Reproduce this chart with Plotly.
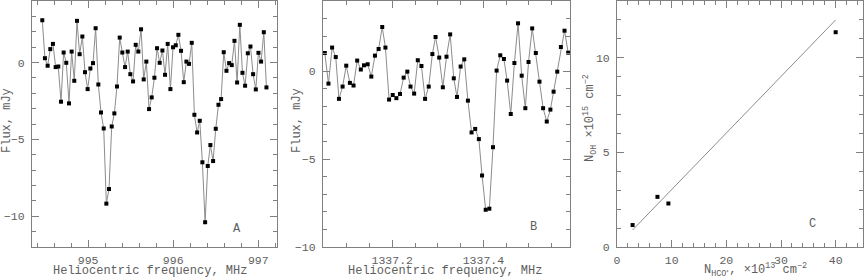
import plotly.graph_objects as go

# ---------------- data ----------------
freq_a = [994.461, 994.492, 994.524, 994.555, 994.586, 994.618, 994.649, 994.681, 994.712, 994.743,
          994.775, 994.806, 994.837, 994.869, 994.900, 994.932, 994.963, 994.994, 995.026, 995.057,
          995.088, 995.120, 995.151, 995.183, 995.214, 995.245, 995.277, 995.308, 995.339, 995.371,
          995.402, 995.434, 995.465, 995.496, 995.528, 995.559, 995.590, 995.622, 995.653, 995.684,
          995.716, 995.747, 995.779, 995.810, 995.841, 995.873, 995.904, 995.935, 995.967, 995.998,
          996.030, 996.061, 996.092, 996.124, 996.155, 996.186, 996.218, 996.249, 996.281, 996.312,
          996.343, 996.375, 996.406, 996.437, 996.469, 996.500, 996.532, 996.563, 996.594, 996.626,
          996.657, 996.688, 996.720, 996.751, 996.783, 996.814, 996.845, 996.877, 996.908, 996.939,
          996.971, 997.002, 997.033, 997.065, 997.096]
flux_a = [2.75, 0.28, -0.21, 0.87, 1.21, -0.30, -0.26, -2.55, 0.65, -0.02,
          -2.66, 0.71, -1.19, 2.71, 0.54, 1.69, -0.63, -1.73, -0.39, -0.04,
          2.23, -1.43, -3.25, -4.29, -9.18, -8.23, -4.16, -3.31, -1.56, 1.62,
          0.65, -0.30, 0.71, -0.76, -1.23, 1.15, 0.71, 2.16, -1.10, 0.06,
          -3.03, -2.27, -0.99, 0.93, -0.02, 0.78, -0.80, 1.21, -1.73, 0.99,
          1.12, 1.80, 0.76, -1.28, 0.06, -0.09, 1.28, -3.40, -4.55, -3.79,
          -6.49, -10.39, -6.73, -5.37, -6.41, -4.31, -2.75, -2.38, 0.67, -0.54,
          -0.04, -0.17, 1.41, -1.30, 2.45, -0.67, -1.51, 0.60, 1.04, -0.76,
          -1.75, 0.63, 0.06, 1.97, -1.62]

freq_b = [1337.052, 1337.060, 1337.068, 1337.076, 1337.083, 1337.091, 1337.099, 1337.107, 1337.115, 1337.123,
          1337.131, 1337.138, 1337.146, 1337.154, 1337.162, 1337.170, 1337.178, 1337.185, 1337.193, 1337.201,
          1337.209, 1337.217, 1337.225, 1337.233, 1337.240, 1337.248, 1337.256, 1337.264, 1337.272, 1337.280,
          1337.288, 1337.295, 1337.303, 1337.311, 1337.319, 1337.327, 1337.335, 1337.342, 1337.350, 1337.358,
          1337.366, 1337.374, 1337.382, 1337.390, 1337.397, 1337.405, 1337.413, 1337.421, 1337.429, 1337.437,
          1337.445, 1337.452, 1337.460, 1337.468, 1337.476, 1337.484, 1337.492, 1337.499, 1337.507, 1337.515,
          1337.523, 1337.531, 1337.539, 1337.547, 1337.554, 1337.562, 1337.570, 1337.578, 1337.586]
flux_b = [1.04, -0.70, 1.35, 0.81, -1.57, -0.87, 0.32, -0.66, -0.81, 0.61,
          0.10, 0.34, 0.40, -0.30, 0.89, 1.27, 2.52, 1.35, -1.61, -1.35,
          -1.53, -1.29, -0.36, -0.02, -0.87, -1.27, 0.63, 0.30, -1.57, -0.87,
          0.98, 1.95, 0.78, -0.91, 0.83, 2.10, -0.40, -1.46, 0.27, 0.68,
          -1.67, -3.48, -3.28, -3.86, -5.93, -7.88, -7.82, -4.32, 0.04, 0.91,
          0.70, -0.53, -2.43, 0.47, 2.73, -0.25, -2.10, 0.53, 2.44, 1.04,
          -0.59, -2.10, -2.86, -2.18, -1.16, -0.02, 1.38, 2.31, 1.06]

n_hco = [2.85, 7.4, 9.4, 40.0]
n_oh = [1.16, 2.65, 2.3, 11.35]
fit_x = [2.85, 40.0]
fit_y = [0.9, 12.0]

ticks_a_x = [995, 996, 997]
ticks_b_x = [1337.2, 1337.4]
ticks_b_x_text = ["1337.2", "1337.4"]
ticks_flux = [-10, -5, 0]
ticks_c_x = [0, 10, 20, 30, 40]
ticks_c_y = [0, 5, 10]

panel_letters = ["A", "B", "C"]

# ---------------- styling ----------------
FONT = "Liberation Mono"
GREY = "#5e5e5e"
AXC = "#808080"
LINEC = "#8c8c8c"

fig = go.Figure()

spec_line = dict(color=LINEC, width=1)
spec_marker = dict(symbol="square", size=4, color="black")

fig.add_trace(go.Scatter(x=freq_a, y=flux_a, mode="lines+markers", line=spec_line,
                         marker=spec_marker, xaxis="x", yaxis="y", showlegend=False))
fig.add_trace(go.Scatter(x=freq_b, y=flux_b, mode="lines+markers", line=spec_line,
                         marker=spec_marker, xaxis="x2", yaxis="y2", showlegend=False))
fig.add_trace(go.Scatter(x=fit_x, y=fit_y, mode="lines", line=dict(color=LINEC, width=1),
                         xaxis="x3", yaxis="y3", showlegend=False))
fig.add_trace(go.Scatter(x=n_hco, y=n_oh, mode="markers", marker=spec_marker,
                         xaxis="x3", yaxis="y3", showlegend=False))


def ax(domain, rng, tickvals, minor_dtick, anchor, minor_tick0=0, ticktext=None, standoff=2):
    d = dict(domain=domain, range=rng, anchor=anchor, tickmode="array", tickvals=tickvals,
             automargin=False,
             showgrid=False, zeroline=False, showline=True, linecolor=AXC, linewidth=1,
             mirror="ticks", ticks="inside", ticklen=7, tickcolor=AXC, tickwidth=1,
             ticklabelstandoff=standoff,
             tickfont=dict(family=FONT, size=11.5, color=GREY),
             minor=dict(ticks="inside", ticklen=4, tickcolor=AXC, dtick=minor_dtick,
                        tick0=minor_tick0, showgrid=False))
    if ticktext is not None:
        d["ticktext"] = ticktext
    return d

ydom = [1 - 247 / 278, 1 - 1 / 278]

fig.update_layout(
    width=864, height=278,
    margin=dict(l=0, r=0, t=0, b=0, autoexpand=False),
    paper_bgcolor="white", plot_bgcolor="white",
    font=dict(family=FONT, color=GREY),
    xaxis=ax([32 / 864, 277 / 864], [994.34, 997.22], ticks_a_x, 0.2, "y", 995),
    yaxis=ax(ydom, [-12, 4], ticks_flux, 1, "x", standoff=4),
    xaxis2=ax([323 / 864, 570 / 864], [1337.048, 1337.59], ticks_b_x, 0.05, "y2", 1337.2,
              ticks_b_x_text),
    yaxis2=ax(ydom, [-10, 4], ticks_flux, 1, "x2", standoff=4),
    xaxis3=ax([617 / 864, 863 / 864], [0, 45], ticks_c_x, 2, "y3"),
    yaxis3=ax(ydom, [0, 13], ticks_c_y, 1, "x3", standoff=4),
)

ann = []
# panel letters
for letter, xr, yr, xv, yv in [(panel_letters[0], "x", "y", 996.75, -10.8),
                                (panel_letters[1], "x2", "y2", 1337.509, -8.86),
                                (panel_letters[2], "x3", "y3", 35.7, 1.21)]:
    ann.append(dict(text=letter, x=xv, y=yv, xref=xr, yref=yr, showarrow=False,
                    xanchor="center", yanchor="middle",
                    font=dict(family=FONT, size=12, color=GREY)))

# axis titles
tfont = dict(family=FONT, size=12, color=GREY)
common = dict(xref="paper", yref="paper", showarrow=False, font=tfont,
              xanchor="center", yanchor="middle")
ann.append(dict(text="Heliocentric frequency, MHz", x=149.5 / 864, y=1 - 271 / 278, **common))
ann.append(dict(text="Heliocentric frequency, MHz", x=445 / 864, y=1 - 271 / 278, **common))
ann.append(dict(text="N<sub>HCO⁺</sub>, ×10<sup>13</sup> cm<sup>−2</sup>", x=755 / 864,
                y=1 - 270 / 278, **common))
ann.append(dict(text="Flux, mJy", x=7 / 864, y=1 - 121 / 278, textangle=-90, **common))
ann.append(dict(text="Flux, mJy", x=297 / 864, y=1 - 121 / 278, textangle=-90, **common))
ann.append(dict(text="N<sub>OH</sub> ×10<sup>15</sup> cm<sup>−2</sup>", x=590 / 864,
                y=1 - 118 / 278, textangle=-90, **common))
fig.update_layout(annotations=ann)

fig.write_html("out.html",
               config={"displayModeBar": False, "staticPlot": True},
               post_script="document.body.style.margin='0px';document.body.style.overflow='hidden';")
